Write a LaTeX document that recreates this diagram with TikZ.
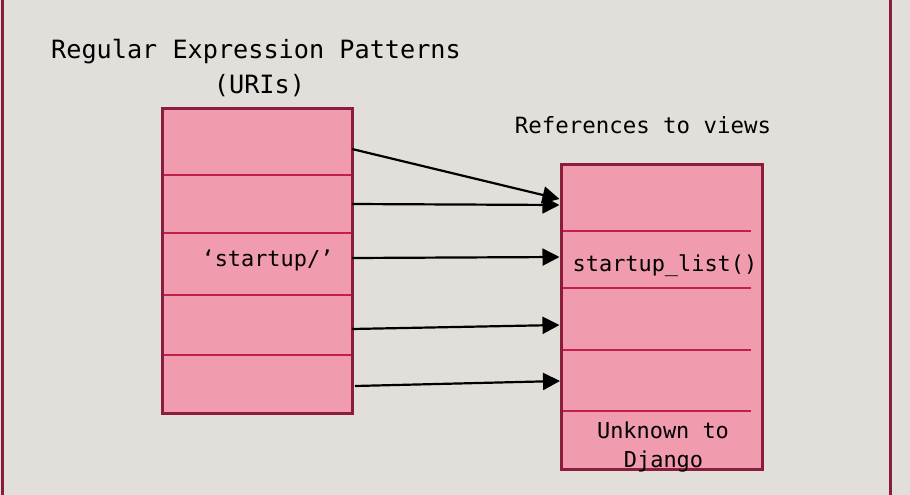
\documentclass[tikz,border=0pt]{standalone}
\usepackage{fontspec}
\setmonofont{DejaVu Sans Mono}
\usetikzlibrary{arrows.meta}
\definecolor{bgcol}{RGB}{226,223,219}
\definecolor{pinkfill}{RGB}{240,155,174}
\definecolor{framecol}{RGB}{140,28,60}
\definecolor{divcol}{RGB}{194,32,74}
\tikzset{
  lrow/.style={fill=pinkfill, draw=none, inner sep=0pt, outer sep=0pt, minimum width=190pt},
  rrow/.style={fill=pinkfill, draw=none, inner sep=0pt, outer sep=0pt, minimum width=201pt},
  boxframe/.style={draw=framecol, line width=3pt},
  divline/.style={draw=divcol, line width=1.8pt},
  sideline/.style={draw=framecol, line width=3pt},
  conn/.style={draw=black, line width=2.2pt, -{Triangle[length=17pt,width=17pt]}},
  titletext/.style={font=\ttfamily\fontsize{25.2}{30}\selectfont, inner sep=0pt, anchor=base},
  boxtext/.style={font=\ttfamily\fontsize{21.9}{26}\selectfont, inner sep=0pt, anchor=base},
}
\begin{document}
\begin{tikzpicture}[x=1pt,y=-1pt]
\useasboundingbox[fill=bgcol] (0,0) rectangle (910,495);
% side lines
\coordinate (tl) at (2,0);
\coordinate (bl) at (2,495);
\coordinate (tr) at (890,0);
\coordinate (br) at (890,495);
\draw[sideline] (tl) -- (bl);
\draw[sideline] (tr) -- (br);
% titles
\node[titletext] (t1) at (256,59) {Regular Expression Patterns};
\node[titletext] (t2) at (259.5,93) {(URIs)};
\node[titletext, font=\ttfamily\fontsize{22.4}{27}\selectfont] (t3) at (643,133) {References to views};
% left rows
\node[lrow, minimum height=67pt] (L1) at (257,141.5) {};
\node[lrow, minimum height=58pt] (L2) at (257,204) {};
\node[lrow, minimum height=62pt] (L3) at (257,264) {};
\node[lrow, minimum height=60pt] (L4) at (257,325) {};
\node[lrow, minimum height=58pt] (L5) at (257,384) {};
\foreach \n in {L1,L2,L3,L4} \draw[divline] (\n.south west) -- (\n.south east);
\draw[boxframe] (L1.north west) rectangle (L5.south east);
% right rows
\node[rrow, minimum height=67pt] (R1) at (661.5,197.5) {};
\node[rrow, minimum height=57pt] (R2) at (661.5,259.5) {};
\node[rrow, minimum height=62pt] (R3) at (661.5,319) {};
\node[rrow, minimum height=61pt] (R4) at (661.5,380.5) {};
\node[rrow, minimum height=58pt] (R5) at (661.5,440) {};
\foreach \n in {R1,R2,R3,R4} \draw[divline] (\n.south west) -- ([xshift=-11pt]\n.south east);
\draw[boxframe] (R1.north west) rectangle (R5.south east);
% texts in rows
\node[boxtext] (lt3) at (267.5,266) {‘startup/’};
\node[boxtext] (rt2) at (665,271) {startup\_list()};
\node[boxtext] (rt5a) at (663,438) {Unknown to};
\node[boxtext] (rt5b) at (663.5,467) {Django};
% connectors
\draw[conn] ([yshift=-7.5pt]L1.east) -- ([xshift=-1.5pt,yshift=-1.5pt]R1.west);
\draw[conn] (L2.east) -- ([xshift=-1.5pt,yshift=-7.5pt]R1.west);
\draw[conn] ([yshift=6pt]L3.east) -- ([xshift=-1.5pt,yshift=2.5pt]R2.west);
\draw[conn] ([yshift=-4pt]L4.east) -- ([xshift=-1.5pt,yshift=-6pt]R3.west);
\draw[conn] ([xshift=3pt,yshift=-2pt]L5.east) -- ([xshift=-1pt,yshift=-0.5pt]R4.west);
\end{tikzpicture}
\end{document}
